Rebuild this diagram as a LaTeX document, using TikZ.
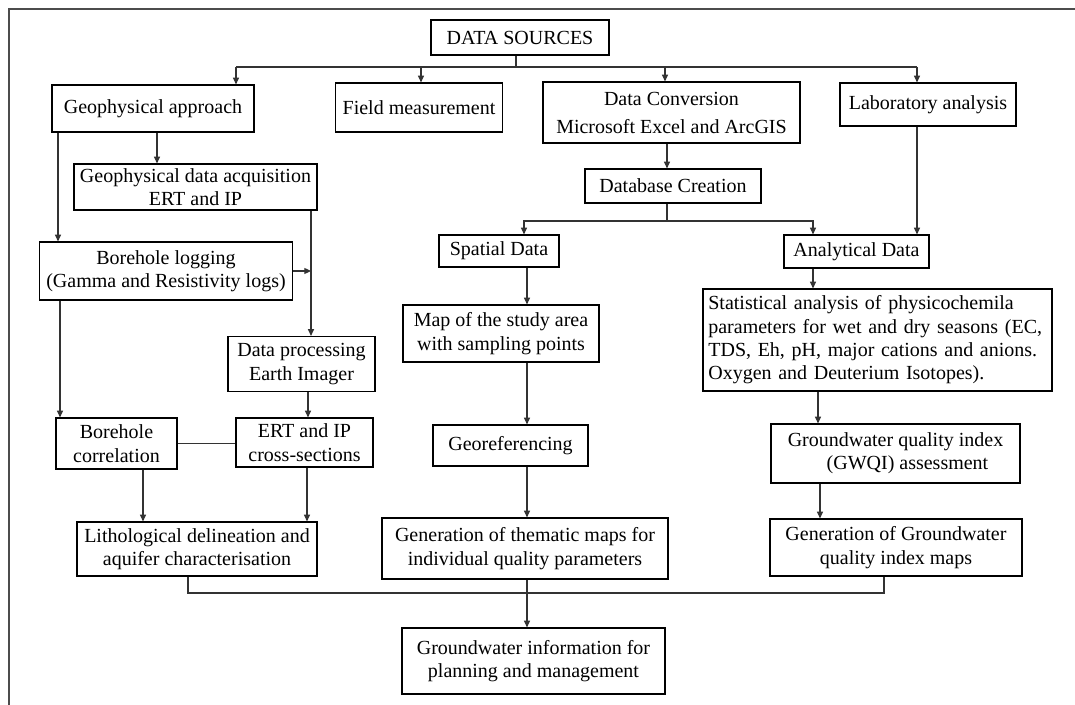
\documentclass[tikz,border=0pt]{standalone}
\usepackage{fontspec}
\setmainfont{Liberation Serif}
\usetikzlibrary{
  arrows.meta
}
\tikzset{
  box/.style 2 args={draw=black, line width=0.7pt, inner sep=0pt, align=center,
    minimum width=#1*0.6pt, minimum height=#2*0.6pt,
    font=\fontsize{12}{14}\selectfont},
  link/.style={line width=0.7pt, draw=black!80},
  arr/.style={link, -{Triangle[length=4pt,width=3.6pt]}},
}

\begin{document}
\begin{tikzpicture}[x=0.6pt, y=-0.6pt]
      \useasboundingbox (0,0) rectangle (1075,705);
      \draw [line width=0.7pt, draw=black!70] (9,705) -- (9,9) -- (1075,9);

      % sources and first row
      \node [box={178}{35}] (src) at (520,37.5) {DATA SOURCES};
      \node [box={202}{47}] (geo) at (153,108.5) {Geophysical approach};
      \node [box={167}{49}] (field) at (419,107.5) {Field measurement};
      \node [box={257}{61}] (conv) at (671.5,112.5)
        {Data Conversion\\[2.8pt] Microsoft Excel and ArcGIS};
      \node [box={176}{43}] (lab) at (928,104.5) {Laboratory analysis};

      % geophysics column
      \node [box={243}{46}] (acq) at (195.5,187)
        {Geophysical data acquisition\\ ERT and IP};
      \node [box={253}{58}] (blog) at (166,271)
        {Borehole logging\\ (Gamma and Resistivity logs)};
      \node [box={147}{55}] (proc) at (301.5,364)
        {Data processing\\ Earth Imager};
      \node [box={137}{49}] (ert) at (304.5,442.5)
        {ERT and IP\\ cross-sections};
      \node [box={121}{51}] (bcor) at (116.5,443.5)
        {Borehole\\ correlation};
      \node [box={240}{54}] (litho) at (197,549)
        {Lithological delineation and\\ aquifer characterisation};

      % database column
      \node [box={176}{34}] (dbc) at (673,186) {Database Creation};
      \node [box={120}{32}] (spat) at (499,251) {Spatial Data};
      \node [box={196}{57}] (map) at (501,333.5)
        {Map of the study area\\ with sampling points};
      \node [box={155}{41}] (geor) at (510.5,445.5) {Georeferencing};
      \node [box={286}{61}] (them) at (525,548.5)
        {Generation of thematic maps for\\ individual quality parameters};
      \node [box={263}{66}] (gwi) at (533.5,661)
        {Groundwater information for\\ planning and management};

      % analytical column
      \node [box={145}{33}] (anal) at (856.5,251.5) {Analytical Data};
      \node [box={349}{102}, align=left, text width=203pt, inner xsep=3.2pt]
        (stat) at (877.5,340)
        {Statistical analysis of physicochemila\\
         parameters for wet and dry seasons (EC,\\
         TDS, Eh, pH, major cations and anions.\\
         Oxygen and Deuterium Isotopes).};
      \node [box={249}{59}] (gwqi) at (895.5,453.5)
        {Groundwater quality index\\ \hspace*{1.2em}(GWQI) assessment};
      \node [box={252}{57}] (gengw) at (896,547.5)
        {Generation of Groundwater\\ quality index maps};

      \coordinate (top) at (516,67);
      \coordinate (mid) at (667,221);
      \coordinate (bot) at (527,593);
      \coordinate (jn) at (311,271);

      \draw [link] (516,0 |- src.south) -- (top);
      \draw [link] (236,0 |- top) -- (917,0 |- top);
      \foreach \n/\x in {geo/236, field/421, conv/665, lab/917}
        \draw [arr] (\x,0 |- top) -- (\x,0 |- \n.north);

      \draw [arr] (667,0 |- conv.south) -- (667,0 |- dbc.north);
      \draw [link] (667,0 |- dbc.south) -- (mid);
      \draw [arr] (mid) -| (524,0 |- spat.north);
      \draw [arr] (mid) -| (813,0 |- anal.north);
      \draw [arr] (917,0 |- lab.south) -- (917,0 |- anal.north);

      \draw [arr] (157,0 |- geo.south) -- (157,0 |- acq.north);
      \draw [arr] (58,0 |- geo.south) -- (58,0 |- blog.north);
      \draw [arr] (311,0 |- acq.south) -- (311,0 |- proc.north);
      \draw [arr] (blog.east) -- (jn);
      \draw [arr] (308,0 |- proc.south) -- (308,0 |- ert.north);
      \draw [arr] (60,0 |- blog.south) -- (60,0 |- bcor.north);
      \draw [link] (bcor.east) -- (bcor.east -| ert.west);
      \draw [arr] (143,0 |- bcor.south) -- (143,0 |- litho.north);
      \draw [arr] (307,0 |- ert.south) -- (307,0 |- litho.north);

      \foreach \a/\b in {spat/map, map/geor, geor/them, them/gwi}
        \draw [arr] (527,0 |- \a.south) -- (527,0 |- \b.north);

      \draw [arr] (813,0 |- anal.south) -- (813,0 |- stat.north);
      \draw [arr] (818,0 |- stat.south) -- (818,0 |- gwqi.north);
      \draw [arr] (820,0 |- gwqi.south) -- (820,0 |- gengw.north);

      \draw [link] (188,0 |- litho.south) |- (bot) -| (884,0 |- gengw.south);
\end{tikzpicture}
\end{document}
